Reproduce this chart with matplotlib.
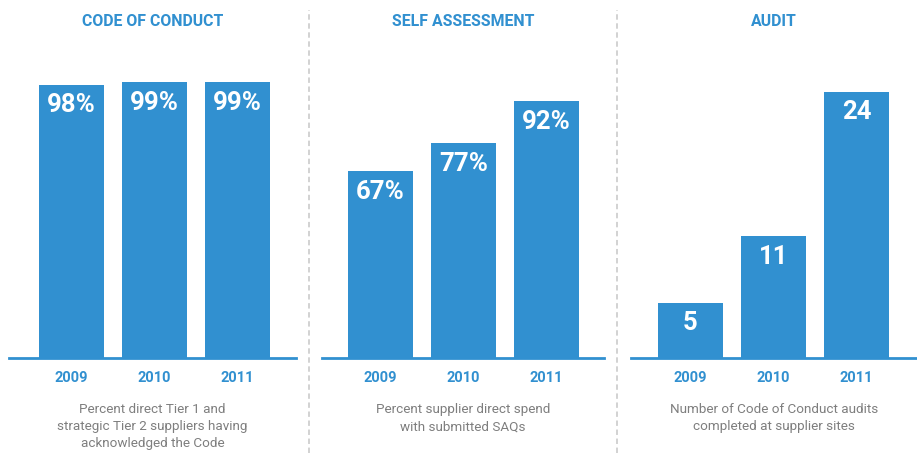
import matplotlib
matplotlib.use("Agg")
import matplotlib.pyplot as plt
from matplotlib.lines import Line2D

plt.rcParams['font.family'] = ['Roboto', 'DejaVu Sans']

years = ["2009", "2010", "2011"]

titles = ["CODE OF CONDUCT", "SELF ASSESSMENT", "AUDIT"]
code_of_conduct = [98, 99, 99]
self_assessment = [67, 77, 92]
audits = [5, 11, 24]
value_suffixes = ["%", "%", ""]
captions = [
    "Percent direct Tier 1 and\nstrategic Tier 2 suppliers having\nacknowledged the Code",
    "Percent supplier direct spend\nwith submitted SAQs",
    "Number of Code of Conduct audits\ncompleted at supplier sites",
]

BLUE = "#3190D0"
GREY_TEXT = "#7E7E7E"
DIVIDER = "#CFCFCF"

W, H = 917, 453
fig = plt.figure(figsize=(W / 100, H / 100), dpi=100)

# panel geometry in pixels: (left, right) of the baseline, bar centres
panels = [
    (9, 296, [71.5, 154.5, 236.5]),
    (322, 604, [380.5, 463.5, 545.5]),
    (631, 917, [690.5, 773.5, 855.5]),
]
px_per_unit = [2.79, 2.79, 11.1]
baseline_y = 358  # pixels from top
axes_height = 298
bar_w_px = 65
series = [code_of_conduct, self_assessment, audits]

for i, (left, right, centres) in enumerate(panels):
    spacing = centres[1] - centres[0]
    ax = fig.add_axes([left / W, (H - baseline_y) / H, (right - left) / W, axes_height / H])
    x0 = -(centres[0] - left) / spacing
    x1 = x0 + (right - left) / spacing
    ax.set_xlim(x0, x1)
    ax.set_ylim(0, axes_height / px_per_unit[i])
    vals = series[i]
    xs = list(range(len(vals)))
    ax.bar(xs, vals, width=bar_w_px / spacing, color=BLUE, zorder=2)
    for x, v in zip(xs, vals):
        ax.annotate(f"{v}{value_suffixes[i]}", (x, v), xytext=(0, -15),
                    textcoords="offset points", ha="center", va="center",
                    color="white", fontsize=18.5, fontweight="bold")
    for s in ["top", "left", "right"]:
        ax.spines[s].set_visible(False)
    ax.spines["bottom"].set_color(BLUE)
    ax.spines["bottom"].set_linewidth(2)
    ax.set_yticks([])
    ax.set_xticks(xs)
    ax.set_xticklabels(years, color=BLUE, fontsize=10.5, fontweight="bold")
    ax.tick_params(axis="x", length=0, pad=9)
    ax.patch.set_alpha(0)

    cx = (left + right) / 2
    fig.text(cx / W, 1 - 22 / H, titles[i], ha="center", va="center",
             color=BLUE, fontsize=11.4, fontweight="bold")
    fig.text(cx / W, 1 - 403 / H, captions[i], ha="center", va="top",
             color=GREY_TEXT, fontsize=9.7, linespacing=1.42)

for xd in (309, 617):
    fig.add_artist(Line2D([xd / W, xd / W], [0, 1 - 10 / H], color=DIVIDER,
                          linewidth=1.3, linestyle=(0, (3, 2))))

fig.savefig("out.png", dpi=100)
